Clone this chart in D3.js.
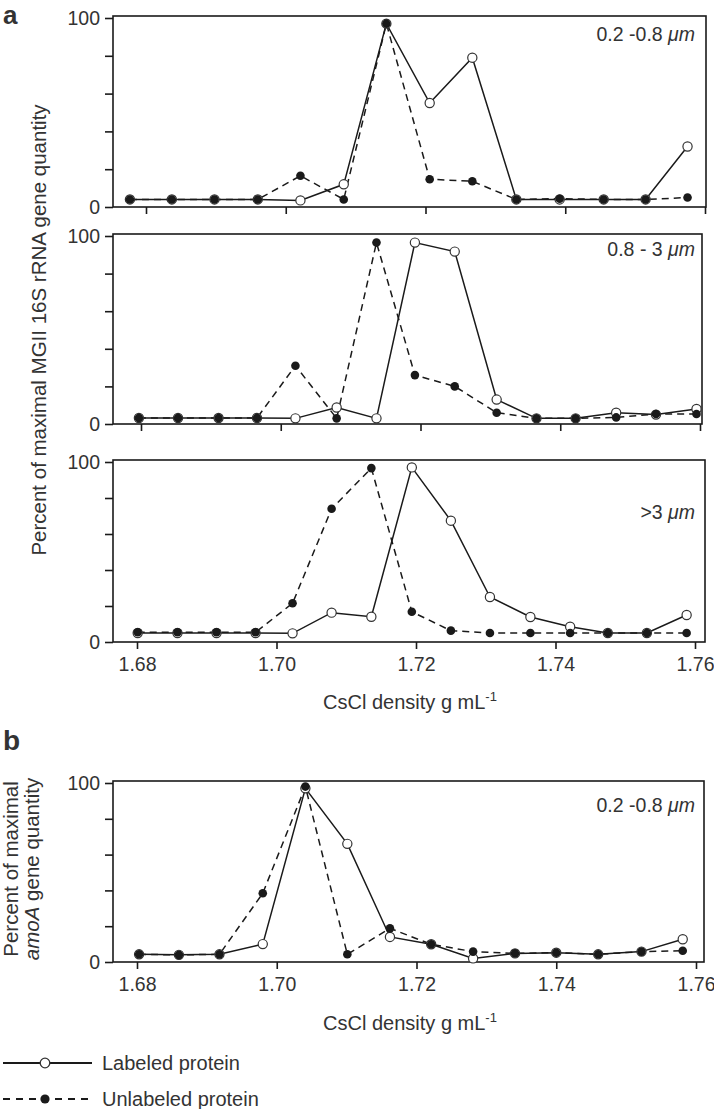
<!DOCTYPE html>
<html><head><meta charset="utf-8">
<script src="https://cdn.jsdelivr.net/npm/d3@7"></script>
<style>
body{margin:0;background:#fff}
svg{display:block}
text{font-family:"Liberation Sans",Arial,sans-serif;fill:#333}
</style>
</head><body>
<svg id="chart" width="714" height="1109"></svg>
<script>
// ---------- data ----------
const xTicks = [1.68, 1.70, 1.72, 1.74, 1.76];
const yTicks = [0, 20, 40, 60, 80, 100];
const yTickLabels = ["0", "", "", "", "", "100"];
const sizeFractions = ["0.2 -0.8 ", "0.8 - 3 ", ">3 ", "0.2 -0.8 "];
const seriesNames = ["Labeled protein", "Unlabeled protein"];

// panel a, 0.2-0.8 um
const p1Density   = [1.6777, 1.6837, 1.6898, 1.6960, 1.7021, 1.7083, 1.7144, 1.7206, 1.7267, 1.7330, 1.7392, 1.7455, 1.7515, 1.7575];
const p1Labeled   = [4, 4, 4, 4, 3.5, 12, 97, 55, 79, 4, 4, 4, 4, 32];
const p1Unlabeled = [4, 4, 4, 4, 16.5, 4, 97, 14.7, 13.6, 4, 4.4, 4, 4, 5];
// panel a, 0.8-3 um
const p2Density   = [1.6797, 1.6853, 1.6911, 1.6966, 1.7021, 1.7080, 1.7137, 1.7192, 1.7249, 1.7309, 1.7366, 1.7422, 1.7480, 1.7537, 1.7595];
const p2Labeled   = [3.2, 3.2, 3.2, 3.2, 3, 8.8, 3, 96.5, 91.7, 13, 3, 3, 6, 5, 8];
const p2Unlabeled = [3.2, 3.2, 3.2, 3.2, 31, 3, 96.5, 26, 20, 6, 3, 3, 3.5, 5.3, 5.3];
// panel a, >3 um
const p3Density   = [1.6801, 1.6858, 1.6914, 1.6970, 1.7023, 1.7079, 1.7136, 1.7194, 1.7250, 1.7306, 1.7364, 1.7421, 1.7475, 1.7531, 1.7588];
const p3Labeled   = [5, 5, 5, 5, 4.8, 16.3, 14, 97, 67.4, 25, 13.9, 8.5, 5, 5, 15];
const p3Unlabeled = [5.4, 5.4, 5.4, 5.4, 21.5, 74, 96.6, 16.8, 6.3, 5, 5, 5, 5, 5, 5];
// panel b, amoA 0.2-0.8 um
const pbDensity   = [1.6803, 1.6860, 1.6918, 1.6980, 1.7041, 1.7101, 1.7162, 1.7221, 1.7281, 1.7341, 1.7400, 1.7460, 1.7522, 1.7581];
const pbLabeled   = [4.3, 4, 4.3, 10, 97, 66, 14, 9.9, 2, 4.8, 5.2, 4.3, 5.8, 12.7];
const pbUnlabeled = [4.3, 4, 4.3, 38.4, 98, 4.3, 18.8, 9.9, 5.8, 4.8, 5.2, 4.3, 5.8, 6.3];

// ---------- layout ----------
const panels = [
  {density: p1Density, lab: p1Labeled, unl: p1Unlabeled, size: sizeFractions[0],
   xr: [146, 705], yr: [207, 18], left: 113, right: 706, sizeY: 41, tickLabels: false},
  {density: p2Density, lab: p2Labeled, unl: p2Unlabeled, size: sizeFractions[1],
   xr: [141, 700], yr: [424, 236], left: 113, right: 702, sizeY: 256, tickLabels: false},
  {density: p3Density, lab: p3Labeled, unl: p3Unlabeled, size: sizeFractions[2],
   xr: [137, 695], yr: [642, 462], left: 113, right: 705, sizeY: 519, tickLabels: true},
  {density: pbDensity, lab: pbLabeled, unl: pbUnlabeled, size: sizeFractions[3],
   xr: [137, 696], yr: [962, 783], left: 113, right: 704, sizeY: 812, tickLabels: true}
];

const svg = d3.select("#chart");
const INK = "#1a1a1a";

panels.forEach(p => {
  const x = d3.scaleLinear().domain([1.68, 1.76]).range(p.xr);
  const y = d3.scaleLinear().domain([0, 100]).range(p.yr);
  const g = svg.append("g");

  // frame
  g.append("rect")
    .attr("x", p.left).attr("y", y(100) - 2)
    .attr("width", p.right - p.left).attr("height", y(0) - y(100) + 2)
    .attr("fill", "none").attr("stroke", INK).attr("stroke-width", 1.6);

  // y axis
  const ya = g.append("g").attr("transform", `translate(${p.left},0)`)
    .call(d3.axisLeft(y).tickValues(yTicks).tickSize(8).tickPadding(5)
      .tickFormat((d, i) => yTickLabels[i]));
  ya.select(".domain").remove();
  ya.selectAll("line").attr("stroke", INK).attr("stroke-width", 1.6);
  ya.selectAll("text").style("font-size", "19.5px").attr("fill", "#333");

  // x axis
  const xa = g.append("g").attr("transform", `translate(0,${y(0)})`)
    .call(d3.axisBottom(x).tickValues(xTicks).tickSize(7).tickPadding(8)
      .tickFormat(p.tickLabels ? d3.format(".2f") : () => ""));
  xa.select(".domain").remove();
  xa.selectAll("line").attr("stroke", INK).attr("stroke-width", 1.6);
  xa.selectAll("text").style("font-size", "19.5px").attr("fill", "#333");

  const lab = p.density.map((d, i) => ({d, v: p.lab[i]}));
  const unl = p.density.map((d, i) => ({d, v: p.unl[i]}));
  const line = d3.line().x(d => x(d.d)).y(d => y(d.v));

  g.append("path").datum(lab).attr("d", line)
    .attr("fill", "none").attr("stroke", INK).attr("stroke-width", 1.5);
  g.append("path").datum(unl).attr("d", line)
    .attr("fill", "none").attr("stroke", INK).attr("stroke-width", 1.5)
    .attr("stroke-dasharray", "7,5");

  g.selectAll(".open").data(lab).join("circle").attr("class", "open")
    .attr("cx", d => x(d.d)).attr("cy", d => y(d.v)).attr("r", 4.6)
    .attr("fill", "#fff").attr("stroke", "#333").attr("stroke-width", 1.2);
  g.selectAll(".filled").data(unl).join("circle").attr("class", "filled")
    .attr("cx", d => x(d.d)).attr("cy", d => y(d.v)).attr("r", 4.3)
    .attr("fill", INK);

  const t = g.append("text").attr("x", 695).attr("y", p.sizeY)
    .attr("text-anchor", "end").style("font-size", "19.5px");
  t.append("tspan").text(p.size);
  t.append("tspan").style("font-style", "italic").text("\u03bcm");
});

// x-axis titles
function xTitle(yPos) {
  const t = svg.append("text").attr("x", 410).attr("y", yPos)
    .attr("text-anchor", "middle").style("font-size", "20px");
  t.append("tspan").text("CsCl density g mL");
  t.append("tspan").attr("dy", -8).style("font-size", "13px").text("-1");
}
xTitle(709);
xTitle(1030);

// y-axis titles
svg.append("text").attr("transform", "translate(46,330) rotate(-90)")
  .attr("text-anchor", "middle").style("font-size", "20.5px")
  .text("Percent of maximal MGII 16S rRNA gene quantity");
svg.append("text").attr("transform", "translate(18,869) rotate(-90)")
  .attr("text-anchor", "middle").style("font-size", "20.5px")
  .text("Percent of maximal");
const yb2 = svg.append("text").attr("transform", "translate(39,869) rotate(-90)")
  .attr("text-anchor", "middle").style("font-size", "20.5px");
yb2.append("tspan").style("font-style", "italic").text("amoA");
yb2.append("tspan").text(" gene quantity");

// panel letters
svg.append("text").attr("x", 3).attr("y", 24).style("font-size", "26px")
  .style("font-weight", "bold").attr("fill", "#111").text("a");
svg.append("text").attr("x", 3).attr("y", 750).style("font-size", "28px")
  .style("font-weight", "bold").attr("fill", "#111").text("b");

// legend
const legend = svg.append("g");
[0, 1].forEach(i => {
  const ly = i === 0 ? 1063 : 1099;
  legend.append("line").attr("x1", 3).attr("x2", i === 0 ? 92 : 88)
    .attr("y1", ly).attr("y2", ly).attr("stroke", INK).attr("stroke-width", 2)
    .attr("stroke-dasharray", i === 0 ? null : "7,6");
  legend.append("circle").attr("cx", 45).attr("cy", ly).attr("r", i === 0 ? 4.8 : 4.6)
    .attr("fill", i === 0 ? "#fff" : INK).attr("stroke", i === 0 ? "#333" : "none")
    .attr("stroke-width", 1.3);
  legend.append("text").attr("x", 102).attr("y", ly + 7).style("font-size", "20px")
    .text(seriesNames[i]);
});
</script>
</body></html>
